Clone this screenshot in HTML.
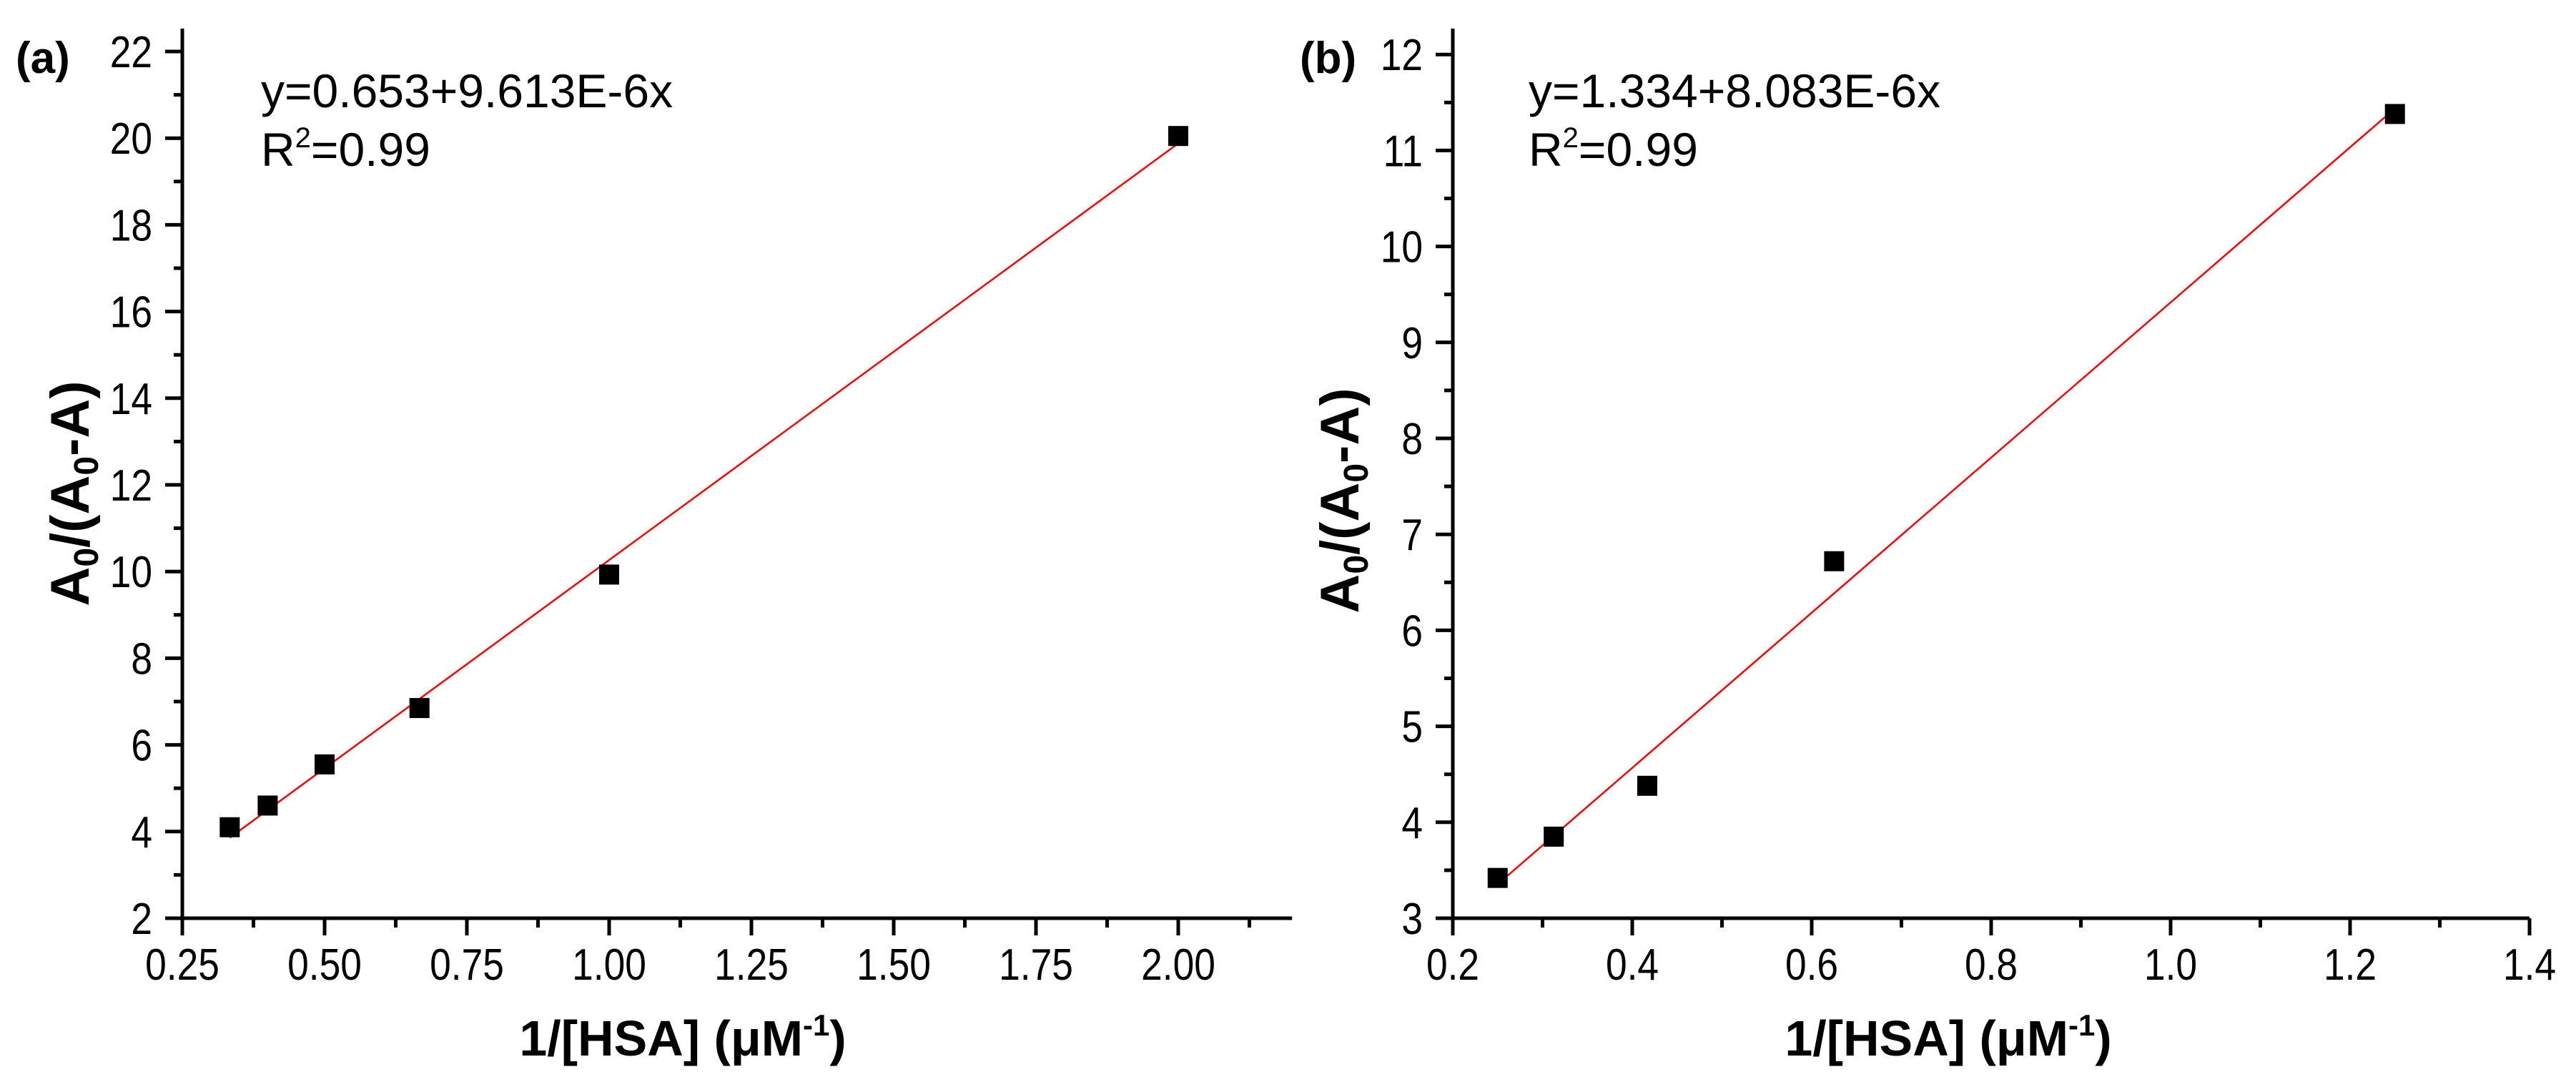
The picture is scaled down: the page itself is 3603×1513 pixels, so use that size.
<!DOCTYPE html>
<html><head><meta charset="utf-8"><style>
html,body{margin:0;padding:0;background:#fff;}
svg{display:block;font-family:"Liberation Sans",Arial,sans-serif;}
</style></head><body>
<svg id="fig" width="3603" height="1513" viewBox="0 0 3603 1513">
<g id="pa"></g>
<g id="pb"></g>
</svg>
<script>
// Panel (a) data
const aX = [0.3333, 0.4, 0.5, 0.6667, 1.0, 2.0];
const aY = [4.1, 4.6, 5.55, 6.85, 9.93, 20.05];
const aFit = [0.653, 9.613]; // intercept, slope (scaled)
const aFitRange = [0.3333, 2.0];
const aXTicks = [0.25, 0.50, 0.75, 1.00, 1.25, 1.50, 1.75, 2.00];
const aXTickLabels = ["0.25","0.50","0.75","1.00","1.25","1.50","1.75","2.00"];
const aYTicks = [2,4,6,8,10,12,14,16,18,20,22];
// Panel (b) data
const bX = [0.25, 0.3125, 0.4167, 0.625, 1.25];
const bY = [3.42, 3.85, 4.38, 6.72, 11.38];
const bFit = [1.334, 8.083];
const bFitRange = [0.25, 1.25];
const bXTicks = [0.2,0.4,0.6,0.8,1.0,1.2,1.4];
const bXTickLabels = ["0.2","0.4","0.6","0.8","1.0","1.2","1.4"];
const bYTicks = [3,4,5,6,7,8,9,10,11,12];

const NS = "http://www.w3.org/2000/svg";
function mk(parent, tag, attrs, text){
  const e = document.createElementNS(NS, tag);
  for (const k in attrs) e.setAttribute(k, attrs[k]);
  if (text !== undefined) e.textContent = text;
  parent.appendChild(e);
  return e;
}

function panel(g, cfg){
  const sx = v => cfg.x0px + (v - cfg.xmin) * cfg.xs;
  const sy = v => cfg.y0px - (v - cfg.ymin) * cfg.ys;
  const axL = sx(cfg.xmin), axB = sy(cfg.ymin);
  let yAxis = mk(g, "line", {x1:axL, y1:cfg.topPx, x2:axL, y2:axB+2, stroke:"#000","stroke-width":5});
  
  
  let xAxis = mk(g, "line", {x1:axL-24, y1:axB, x2:sx(cfg.xmax), y2:axB, stroke:"#000","stroke-width":5});
  
  
  cfg.xTicks.forEach((v,i)=>{
    const t = mk(g,"line",{x1:sx(v),y1:axB,x2:sx(v),y2:axB+24,stroke:"#000","stroke-width":5});
    
    
    const l = mk(g,"text",{x:0,y:0,"font-size":62,"text-anchor":"middle",transform:"translate("+sx(v)+","+(axB+86)+") scale(0.86,1)"}, cfg.xTickLabels[i]);
    
    
    const mv = v + cfg.xMinorStep;
    if (mv <= cfg.xmax + 1e-9){
      const m = mk(g,"line",{x1:sx(mv),y1:axB,x2:sx(mv),y2:axB+13,stroke:"#000","stroke-width":5});
      
      
    }
  });
  cfg.yTicks.forEach((v,i)=>{
    const t = mk(g,"line",{x1:axL-24,y1:sy(v),x2:axL,y2:sy(v),stroke:"#000","stroke-width":5});
    
    
    const l = mk(g,"text",{x:0,y:0,"font-size":62,"text-anchor":"end",transform:"translate("+(axL-42)+","+(sy(v)+22)+") scale(0.86,1)"}, String(v));
    
    
    if (i < cfg.yTicks.length-1){
      const mv = v + cfg.yMinorStep;
      const m = mk(g,"line",{x1:axL-12,y1:sy(mv),x2:axL,y2:sy(mv),stroke:"#000","stroke-width":5});
      
      
    }
  });
  const f = x => cfg.fit[0] + cfg.fit[1]*x;
  const fl = mk(g,"line",{x1:sx(cfg.fitRange[0]),y1:sy(f(cfg.fitRange[0])),x2:sx(cfg.fitRange[1]),y2:sy(f(cfg.fitRange[1])),stroke:"#ff0000","stroke-width":2.5});
  
  
  cfg.xs_.forEach((x,i)=>{
    const s = 28;
    const p = mk(g,"rect",{x:sx(x)-s/2,y:sy(cfg.ys_[i])-s/2,width:s,height:s,fill:"#000"});
    
    
  });
}

panel(document.getElementById("pa"), {
  xmin:0.25, xmax:2.2, ymin:2, x0px:255, xs:796, y0px:1284, ys:60.6, topPx:40,
  xTicks:aXTicks, xTickLabels:aXTickLabels, yTicks:aYTicks, xMinorStep:0.125, yMinorStep:1,
  fit:aFit, fitRange:aFitRange, xs_:aX, ys_:aY
});
panel(document.getElementById("pb"), {
  xmin:0.2, xmax:1.4, ymin:3, x0px:2032, xs:1255, y0px:1284, ys:134.2, topPx:40,
  xTicks:bXTicks, xTickLabels:bXTickLabels, yTicks:bYTicks, xMinorStep:0.1, yMinorStep:0.5,
  fit:bFit, fitRange:bFitRange, xs_:bX, ys_:bY
});
</script>
<div style="position:absolute;left:0;top:0;width:3603px;height:1513px;pointer-events:none;">
<svg width="3603" height="1513" style="font-family:'Liberation Sans',Arial,sans-serif;">
  <text x="22" y="102" font-size="62" font-weight="bold">(a)</text>
  <text x="1818" y="102" font-size="62" font-weight="bold">(b)</text>
  <text x="365" y="150" font-size="66">y=0.653+9.613E-6x</text>
  <text x="365" y="232" font-size="66">R<tspan font-size="40" dy="-26">2</tspan><tspan dy="26">=0.99</tspan></text>
  <text x="2138" y="150" font-size="66">y=1.334+8.083E-6x</text>
  <text x="2138" y="232" font-size="66">R<tspan font-size="40" dy="-26">2</tspan><tspan dy="26">=0.99</tspan></text>
  <text x="955" y="1476" font-size="70" font-weight="bold" text-anchor="middle">1/[HSA] (μM<tspan font-size="42" dy="-28">-1</tspan><tspan dy="28">)</tspan></text>
  <text x="2725" y="1476" font-size="70" font-weight="bold" text-anchor="middle">1/[HSA] (μM<tspan font-size="42" dy="-28">-1</tspan><tspan dy="28">)</tspan></text>
  <text transform="translate(124,690) rotate(-90)" font-size="76" font-weight="bold" text-anchor="middle">A<tspan font-size="48" dy="13">0</tspan><tspan dy="-13">/(A</tspan><tspan font-size="48" dy="13">0</tspan><tspan dy="-13">-A)</tspan></text>
  <text transform="translate(1900,700) rotate(-90)" font-size="76" font-weight="bold" text-anchor="middle">A<tspan font-size="48" dy="13">0</tspan><tspan dy="-13">/(A</tspan><tspan font-size="48" dy="13">0</tspan><tspan dy="-13">-A)</tspan></text>
</svg>
</div>
</body></html>
